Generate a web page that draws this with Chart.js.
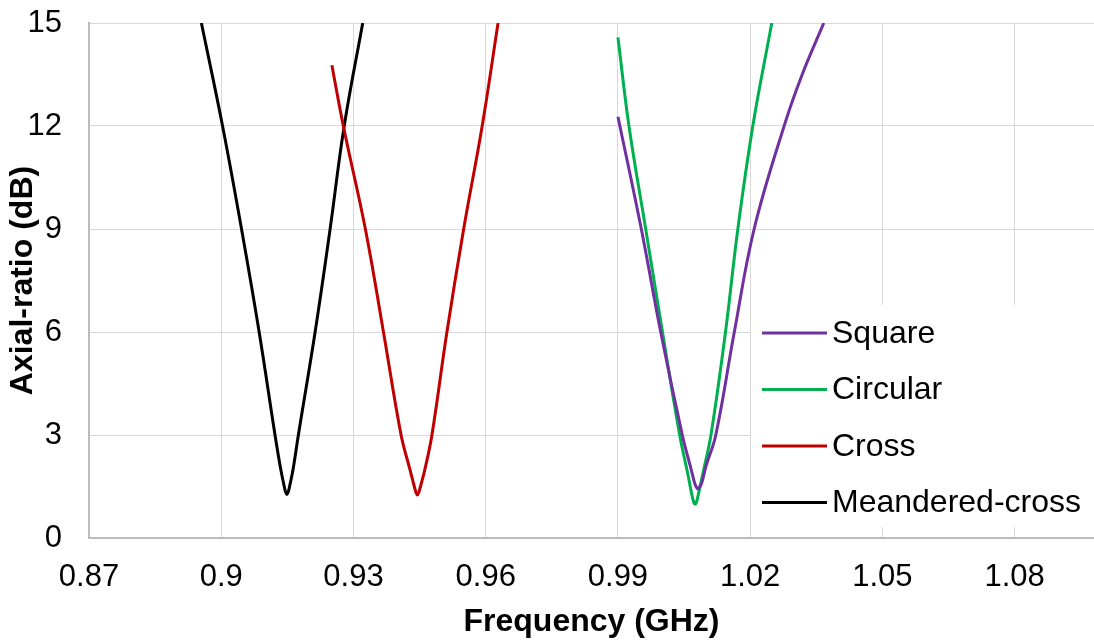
<!DOCTYPE html>
<html>
<head>
<meta charset="utf-8">
<script src="https://cdn.jsdelivr.net/npm/chart.js@4.4.0/dist/chart.umd.min.js"></script>
<style>
html,body{margin:0;padding:0;background:#fff;}
#wrap{width:1094px;height:644px;position:relative;}
</style>
</head>
<body>
<div id="wrap"><canvas id="arChart"></canvas></div>
<script>
// axial ratio vs frequency
let seriesNames = ["Square","Circular","Cross","Meandered-cross"];
let seriesColors = ["#7030A0","#00B050","#C00000","#000000"];

let sqF  = [0.990,0.9953,0.9997,1.0046,1.0064,1.0074,1.0078,1.0081,1.0085,1.0090,1.0100,1.0122,1.0164,1.0209,1.0277,1.0318,1.0367];
let sqAR = [12.27,9,6,3,2.1,1.6,1.48,1.43,1.48,1.6,2.1,3,6,9,12,13.5,15];

let circF  = [0.990,0.9925,0.9963,1.0001,1.0040,1.0058,1.0067,1.0072,1.0075,1.0078,1.0083,1.0093,1.0111,1.0144,1.0172,1.0206,1.0249];
let circAR = [14.58,12,9,6,3,1.9,1.3,1.04,0.98,1.04,1.3,1.9,3,6,9,12,15];

let crossF  = [0.9251,0.9277,0.9327,0.9368,0.9408,0.9428,0.9438,0.9442,0.9445,0.9448,0.9452,0.9462,0.9478,0.9512,0.9550,0.9592,0.9628];
let crossAR = [13.77,12,9,6,3,2.0,1.5,1.32,1.25,1.32,1.5,2.0,3,6,9,12,15];

let meanF  = [0.8955,0.9003,0.9046,0.9086,0.9122,0.9135,0.9143,0.9146,0.9149,0.9152,0.9155,0.9163,0.9175,0.9213,0.9247,0.9279,0.9321];
let meanAR = [15,12,9,6,3,2.0,1.5,1.34,1.27,1.34,1.5,2.0,3,6,9,12,15];

let xTicks = [0.87,0.9,0.93,0.96,0.99,1.02,1.05,1.08];
let yTicks = [0,3,6,9,12,15];

function pts(fs,ars){ return fs.map((f,i)=>({x:f,y:ars[i]})); }

let allF = [sqF,circF,crossF,meanF], allAR = [sqAR,circAR,crossAR,meanAR];
let datasets = seriesNames.map((n,i)=>({
label:n,
data:pts(allF[i],allAR[i]),
borderColor:seriesColors[i],
backgroundColor:seriesColors[i],
borderWidth:3,
pointRadius:0,
showLine:true,
tension:0.4
}));

const FONT = "'Liberation Sans', Arial, sans-serif";

// legend box drawn inside the plot, lower right
const boxLegend = {
id:'boxLegend',
afterDraw(chart){
let ctx=chart.ctx, a=chart.chartArea;
let left=a.left+662, top=a.top+282;
ctx.save();
ctx.fillStyle="#fff";
ctx.fillRect(left,top,a.right-left,222);
ctx.font="32px "+FONT;
ctx.textBaseline="middle";
chart.data.datasets.forEach((d,i)=>{
let y=top+28+i*56.5;
ctx.strokeStyle=d.borderColor; ctx.lineWidth=3;
ctx.beginPath(); ctx.moveTo(left+11,y); ctx.lineTo(left+76,y); ctx.stroke();
ctx.fillStyle="#000";
ctx.fillText(d.label,left+81,y+1);
});
ctx.restore();
}
};

new Chart(document.getElementById("arChart"),{
type:'scatter',
data:{datasets:datasets},
plugins:[boxLegend],
options:{
responsive:true,
maintainAspectRatio:false,
animation:false,
layout:{padding:{top:23,right:0,left:0,bottom:0}},
plugins:{legend:{display:false},tooltip:{enabled:false}},
scales:{
x:{
type:'linear',min:0.87,max:1.098,
afterBuildTicks:s=>{s.ticks=xTicks.map(v=>({value:v}));},
afterFit:s=>{s.height=106;s.paddingLeft=0;s.paddingRight=0;},
grid:{color:'#d9d9d9',lineWidth:1,drawTicks:false},
border:{color:'#bcbcbc',width:2},
ticks:{padding:21,color:'#000',font:{family:FONT,size:31},callback:v=>String(v)},
title:{display:true,text:'Frequency (GHz)',color:'#000',font:{family:FONT,size:32,weight:'bold'},padding:{top:0,bottom:3}}
},
y:{
min:0,max:15,
afterBuildTicks:s=>{s.ticks=yTicks.map(v=>({value:v}));},
afterFit:s=>{s.width=89;s.paddingTop=0;s.paddingBottom=0;},
grid:{color:'#d9d9d9',lineWidth:1,drawTicks:false},
border:{color:'#bcbcbc',width:2},
ticks:{padding:27,color:'#000',font:{family:FONT,size:31}},
title:{display:true,text:'Axial-ratio (dB)',color:'#000',font:{family:FONT,size:32,weight:'bold'},padding:{top:4,bottom:0}}
}
}
}
});
</script>
</body>
</html>
